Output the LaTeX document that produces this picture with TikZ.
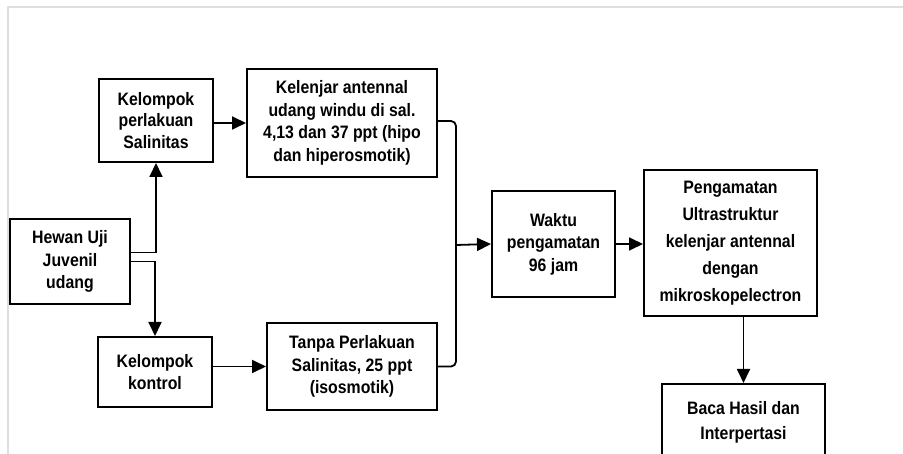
\documentclass[tikz,border=0pt]{standalone}
\usepackage{fontspec}
\setmainfont{Liberation Sans Bold}[FakeStretch=0.88]
\usetikzlibrary{arrows.meta,calc}
\tikzset{
  boxnode/.style={draw=black, line width=2pt, align=center, inner sep=2pt,
    font=\fontsize{18}{22.5}\selectfont},
  arr/.style={line width=1.8pt, -{Triangle[length=14pt,width=13pt]}},
  conn/.style={line width=1.8pt}
}
\begin{document}
\begin{tikzpicture}[x=1pt,y=-1pt]
\useasboundingbox (0,0) rectangle (903,454);
\clip (0,0) rectangle (903,454);
\fill[white] (0,0) rectangle (903,454);
\draw[black!13, line width=2pt] (8,470) -- (8,7) -- (920,7);

\node[boxnode, minimum width=120pt, minimum height=85pt] (hewan) at (70,261.5) {Hewan Uji\\Juvenil\\udang};
\node[boxnode, minimum width=114pt, minimum height=83pt, font=\fontsize{18}{21.7}\selectfont] (perl) at (156,120.5) {Kelompok\\perlakuan\\Salinitas};
\node[boxnode, minimum width=114pt, minimum height=70pt] (kontrol) at (155,372) {Kelompok\\kontrol};
\node[boxnode, minimum width=190pt, minimum height=108pt] (kel) at (342,123) {Kelenjar antennal\\udang windu di sal.\\4,13 dan 37 ppt (hipo\\dan hiperosmotik)};
\node[boxnode, minimum width=170pt, minimum height=87pt] (tanpa) at (352,366.5) {Tanpa Perlakuan\\Salinitas, 25 ppt\\(isosmotik)};
\node[boxnode, minimum width=123pt, minimum height=106pt] (waktu) at (553.5,244) {Waktu\\pengamatan\\96 jam};
\node[boxnode, minimum width=173pt, minimum height=146pt, font=\fontsize{18}{27}\selectfont] (peng) at (730.5,243) {Pengamatan\\Ultrastruktur\\kelenjar antennal\\dengan\\mikroskopelectron};
\node[boxnode, minimum width=163pt, minimum height=76pt, anchor=north, font=\fontsize{18}{25}\selectfont] (baca) at (743.5,383) {Baca Hasil dan\\Interpertasi};

\coordinate (m) at (456,245);

\draw[arr] ([yshift=9pt]hewan.east) -| (perl.south);
\draw[arr] (hewan.east) -| (kontrol.north);
\draw[arr] (perl.east |- kel.west) -- (kel.west);
\draw[arr] (kontrol.east |- tanpa.west) -- (tanpa.west);
\draw[conn, rounded corners=5pt] ([yshift=2pt]kel.east) -| (m);
\draw[conn, rounded corners=5pt] (tanpa.east) -| (m);
\draw[arr] (m) -- (waktu.west);
\draw[arr] (waktu.east) -- (peng.west |- waktu.east);
\draw[arr] (baca.north |- peng.south) -- (baca.north);
\end{tikzpicture}
\end{document}
